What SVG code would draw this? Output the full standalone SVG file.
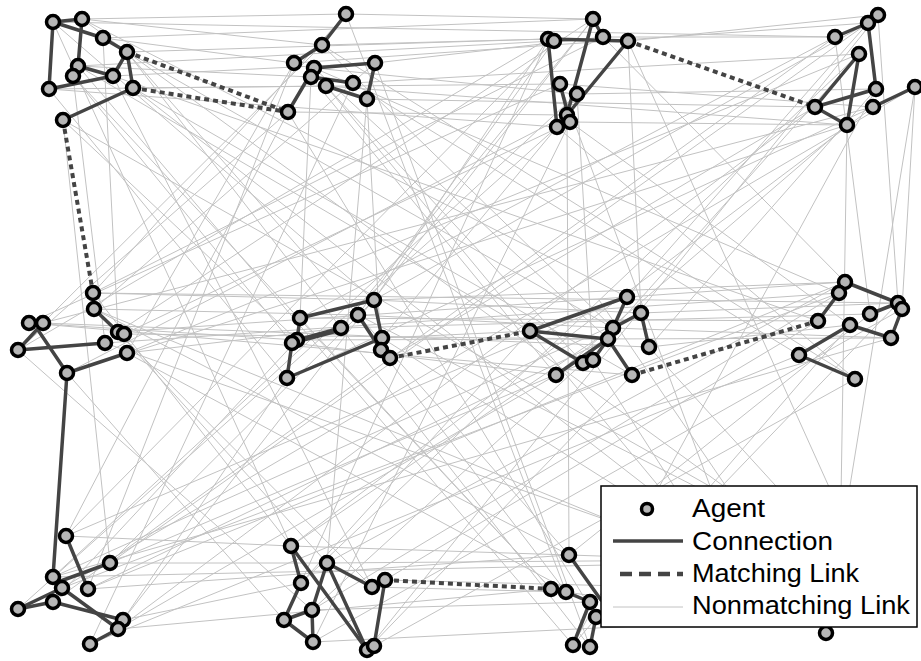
<svg xmlns="http://www.w3.org/2000/svg" width="921" height="661" viewBox="0 0 921 661">
<style>
.nm{stroke:#c2c2c2;stroke-width:1;fill:none}
.cn{stroke:#444;stroke-width:3.5;stroke-linecap:round;fill:none}
.mt{stroke:#444;stroke-width:4;stroke-dasharray:5 4;fill:none}
.ag{fill:#b6b6b6;stroke:#000;stroke-width:3.5}
.lg{font-family:"Liberation Sans",Arial,sans-serif;font-size:25px;fill:#000}
</style>
<rect width="921" height="661" fill="#fff"/>
<g id="connectors">
<g id="nonmatching-links" class="nm">
<line x1="82" y1="19" x2="346" y2="14"/><line x1="103" y1="38" x2="294" y2="63"/><line x1="127" y1="52" x2="548" y2="39"/><line x1="113" y1="76" x2="375" y2="63"/>
<line x1="133" y1="88" x2="560" y2="84"/><line x1="53" y1="22" x2="835" y2="37"/><line x1="78" y1="66" x2="554" y2="41"/><line x1="346" y1="14" x2="593" y2="19"/>
<line x1="375" y1="63" x2="603" y2="37"/><line x1="353" y1="83" x2="859" y2="54"/><line x1="322" y1="45" x2="548" y2="39"/><line x1="367" y1="99" x2="815" y2="107"/>
<line x1="628" y1="41" x2="878" y2="15"/><line x1="603" y1="37" x2="835" y2="37"/><line x1="577" y1="94" x2="876" y2="89"/><line x1="103" y1="38" x2="593" y2="19"/>
<line x1="294" y1="63" x2="868" y2="23"/><line x1="49" y1="89" x2="326" y2="86"/><line x1="314" y1="68" x2="577" y2="94"/><line x1="560" y1="84" x2="873" y2="107"/>
<line x1="82" y1="19" x2="322" y2="45"/><line x1="78" y1="66" x2="311" y2="77"/><line x1="49" y1="89" x2="557" y2="127"/><line x1="288" y1="112" x2="567" y2="115"/>
<line x1="326" y1="86" x2="847" y2="125"/><line x1="570" y1="122" x2="847" y2="125"/>
<line x1="53" y1="22" x2="374" y2="300"/><line x1="82" y1="19" x2="627" y2="297"/><line x1="103" y1="38" x2="118" y2="332"/><line x1="127" y1="52" x2="341" y2="328"/>
<line x1="78" y1="66" x2="530" y2="331"/><line x1="73" y1="76" x2="105" y2="343"/><line x1="113" y1="76" x2="818" y2="321"/><line x1="49" y1="89" x2="287" y2="378"/>
<line x1="133" y1="88" x2="632" y2="375"/><line x1="63" y1="120" x2="297" y2="340"/><line x1="346" y1="14" x2="93" y2="293"/><line x1="322" y1="45" x2="613" y2="328"/>
<line x1="294" y1="63" x2="127" y2="353"/><line x1="314" y1="68" x2="839" y2="293"/><line x1="311" y1="77" x2="300" y2="318"/><line x1="326" y1="86" x2="583" y2="363"/>
<line x1="353" y1="83" x2="799" y2="355"/><line x1="375" y1="63" x2="94" y2="309"/><line x1="367" y1="99" x2="381" y2="350"/><line x1="288" y1="112" x2="18" y2="350"/>
<line x1="593" y1="19" x2="118" y2="332"/><line x1="548" y1="39" x2="374" y2="300"/><line x1="603" y1="37" x2="845" y2="282"/><line x1="628" y1="41" x2="641" y2="313"/>
<line x1="560" y1="84" x2="29" y2="323"/><line x1="577" y1="94" x2="593" y2="360"/><line x1="567" y1="115" x2="382" y2="338"/><line x1="557" y1="127" x2="855" y2="379"/>
<line x1="570" y1="122" x2="124" y2="334"/><line x1="554" y1="41" x2="358" y2="315"/><line x1="878" y1="15" x2="898" y2="303"/><line x1="868" y1="23" x2="627" y2="297"/>
<line x1="835" y1="37" x2="300" y2="318"/><line x1="859" y1="54" x2="127" y2="353"/><line x1="876" y1="89" x2="649" y2="347"/><line x1="915" y1="87" x2="902" y2="309"/>
<line x1="815" y1="107" x2="390" y2="358"/><line x1="873" y1="107" x2="43" y2="323"/><line x1="847" y1="125" x2="556" y2="375"/><line x1="835" y1="37" x2="870" y2="314"/>
<line x1="103" y1="38" x2="613" y2="328"/><line x1="73" y1="76" x2="292" y2="343"/><line x1="322" y1="45" x2="43" y2="323"/><line x1="314" y1="68" x2="608" y2="339"/>
<line x1="593" y1="19" x2="341" y2="328"/><line x1="603" y1="37" x2="93" y2="293"/><line x1="868" y1="23" x2="374" y2="300"/><line x1="859" y1="54" x2="583" y2="363"/>
<line x1="847" y1="125" x2="67" y2="373"/><line x1="570" y1="122" x2="850" y2="325"/>
<line x1="53" y1="22" x2="291" y2="546"/><line x1="127" y1="52" x2="569" y2="555"/><line x1="113" y1="76" x2="372" y2="587"/><line x1="133" y1="88" x2="780" y2="590"/>
<line x1="63" y1="120" x2="110" y2="563"/><line x1="346" y1="14" x2="566" y2="592"/><line x1="294" y1="63" x2="88" y2="589"/><line x1="326" y1="86" x2="720" y2="560"/>
<line x1="367" y1="99" x2="327" y2="563"/><line x1="288" y1="112" x2="66" y2="536"/><line x1="593" y1="19" x2="123" y2="620"/><line x1="548" y1="39" x2="284" y2="620"/>
<line x1="560" y1="84" x2="760" y2="620"/><line x1="567" y1="115" x2="569" y2="555"/><line x1="557" y1="127" x2="18" y2="609"/><line x1="570" y1="122" x2="313" y2="642"/>
<line x1="868" y1="23" x2="110" y2="563"/><line x1="859" y1="54" x2="301" y2="583"/><line x1="876" y1="89" x2="573" y2="645"/><line x1="815" y1="107" x2="118" y2="629"/>
<line x1="847" y1="125" x2="840" y2="560"/><line x1="878" y1="15" x2="367" y2="650"/><line x1="628" y1="41" x2="880" y2="600"/><line x1="375" y1="63" x2="590" y2="647"/>
<line x1="353" y1="83" x2="90" y2="644"/><line x1="577" y1="94" x2="53" y2="577"/><line x1="873" y1="107" x2="291" y2="546"/><line x1="78" y1="66" x2="573" y2="645"/>
<line x1="93" y1="293" x2="374" y2="300"/><line x1="94" y1="309" x2="358" y2="315"/><line x1="118" y1="332" x2="627" y2="297"/><line x1="127" y1="353" x2="341" y2="328"/>
<line x1="105" y1="343" x2="839" y2="293"/><line x1="374" y1="300" x2="641" y2="313"/><line x1="358" y1="315" x2="613" y2="328"/><line x1="341" y1="328" x2="870" y2="314"/>
<line x1="382" y1="338" x2="530" y2="331"/><line x1="300" y1="318" x2="818" y2="321"/><line x1="627" y1="297" x2="845" y2="282"/><line x1="641" y1="313" x2="898" y2="303"/>
<line x1="649" y1="347" x2="850" y2="325"/><line x1="613" y1="328" x2="891" y2="338"/><line x1="124" y1="334" x2="608" y2="339"/><line x1="29" y1="323" x2="297" y2="340"/>
<line x1="374" y1="300" x2="845" y2="282"/><line x1="93" y1="293" x2="898" y2="303"/><line x1="43" y1="323" x2="649" y2="347"/><line x1="292" y1="343" x2="556" y2="375"/>
<line x1="93" y1="293" x2="291" y2="546"/><line x1="94" y1="309" x2="569" y2="555"/><line x1="118" y1="332" x2="327" y2="563"/><line x1="105" y1="343" x2="720" y2="560"/>
<line x1="127" y1="353" x2="590" y2="602"/><line x1="67" y1="373" x2="284" y2="620"/><line x1="18" y1="350" x2="312" y2="610"/><line x1="374" y1="300" x2="110" y2="563"/>
<line x1="300" y1="318" x2="551" y2="589"/><line x1="297" y1="340" x2="53" y2="602"/><line x1="382" y1="338" x2="780" y2="590"/><line x1="381" y1="350" x2="566" y2="592"/>
<line x1="287" y1="378" x2="123" y2="620"/><line x1="358" y1="315" x2="840" y2="560"/><line x1="627" y1="297" x2="66" y2="536"/><line x1="530" y1="331" x2="301" y2="583"/>
<line x1="608" y1="339" x2="88" y2="589"/><line x1="583" y1="363" x2="312" y2="610"/><line x1="593" y1="360" x2="760" y2="620"/><line x1="556" y1="375" x2="118" y2="629"/>
<line x1="632" y1="375" x2="367" y2="650"/><line x1="845" y1="282" x2="327" y2="563"/><line x1="839" y1="293" x2="62" y2="588"/><line x1="870" y1="314" x2="569" y2="555"/>
<line x1="818" y1="321" x2="385" y2="580"/><line x1="850" y1="325" x2="573" y2="645"/><line x1="799" y1="355" x2="90" y2="644"/><line x1="855" y1="379" x2="374" y2="646"/>
<line x1="898" y1="303" x2="596" y2="617"/><line x1="891" y1="338" x2="53" y2="577"/>
<line x1="118" y1="332" x2="372" y2="587"/><line x1="341" y1="328" x2="590" y2="647"/><line x1="613" y1="328" x2="291" y2="546"/><line x1="839" y1="293" x2="312" y2="610"/>
<line x1="649" y1="347" x2="880" y2="600"/><line x1="94" y1="309" x2="780" y2="590"/>
<line x1="66" y1="536" x2="291" y2="546"/><line x1="110" y1="563" x2="327" y2="563"/>
<line x1="88" y1="589" x2="569" y2="555"/><line x1="123" y1="620" x2="301" y2="583"/><line x1="118" y1="629" x2="551" y2="589"/><line x1="291" y1="546" x2="569" y2="555"/>
<line x1="327" y1="563" x2="720" y2="560"/><line x1="372" y1="587" x2="566" y2="592"/><line x1="313" y1="642" x2="760" y2="620"/><line x1="385" y1="580" x2="780" y2="590"/>
<line x1="53" y1="577" x2="840" y2="560"/><line x1="312" y1="610" x2="590" y2="602"/><line x1="569" y1="555" x2="720" y2="560"/><line x1="566" y1="592" x2="760" y2="620"/>
<line x1="82" y1="19" x2="880" y2="600"/><line x1="322" y1="45" x2="855" y2="379"/><line x1="554" y1="41" x2="66" y2="536"/><line x1="835" y1="37" x2="53" y2="602"/>
<line x1="73" y1="76" x2="551" y2="589"/><line x1="311" y1="77" x2="556" y2="375"/><line x1="567" y1="115" x2="67" y2="373"/><line x1="915" y1="87" x2="62" y2="588"/>
<line x1="29" y1="323" x2="632" y2="375"/><line x1="297" y1="340" x2="891" y2="338"/><line x1="583" y1="363" x2="110" y2="563"/><line x1="902" y1="309" x2="313" y2="642"/>
<line x1="63" y1="120" x2="840" y2="560"/><line x1="288" y1="112" x2="596" y2="617"/><line x1="548" y1="39" x2="18" y2="350"/><line x1="873" y1="107" x2="287" y2="378"/>
<line x1="845" y1="282" x2="88" y2="589"/><line x1="641" y1="313" x2="53" y2="577"/><line x1="826" y1="633" x2="599" y2="300"/><line x1="826" y1="633" x2="915" y2="87"/>
</g>
<g id="connections" class="cn">
<line x1="53" y1="22" x2="82" y2="19"/><line x1="53" y1="22" x2="49" y2="89"/><line x1="53" y1="22" x2="103" y2="38"/><line x1="103" y1="38" x2="127" y2="52"/>
<line x1="82" y1="19" x2="78" y2="66"/><line x1="127" y1="52" x2="133" y2="88"/><line x1="127" y1="52" x2="113" y2="76"/><line x1="78" y1="66" x2="113" y2="76"/>
<line x1="49" y1="89" x2="113" y2="76"/><line x1="133" y1="88" x2="63" y2="120"/>
<line x1="346" y1="14" x2="322" y2="45"/><line x1="322" y1="45" x2="294" y2="63"/><line x1="314" y1="68" x2="288" y2="112"/><line x1="314" y1="68" x2="375" y2="63"/>
<line x1="326" y1="86" x2="367" y2="99"/><line x1="375" y1="63" x2="367" y2="99"/><line x1="311" y1="77" x2="353" y2="83"/>
<line x1="548" y1="39" x2="628" y2="41"/><line x1="593" y1="19" x2="567" y2="115"/><line x1="548" y1="39" x2="557" y2="127"/><line x1="628" y1="41" x2="567" y2="115"/>
<line x1="560" y1="84" x2="570" y2="122"/><line x1="593" y1="19" x2="603" y2="37"/>
<line x1="868" y1="23" x2="835" y2="37"/><line x1="868" y1="23" x2="876" y2="89"/><line x1="859" y1="54" x2="815" y2="107"/><line x1="859" y1="54" x2="847" y2="125"/>
<line x1="815" y1="107" x2="876" y2="89"/><line x1="873" y1="107" x2="915" y2="87"/><line x1="815" y1="107" x2="847" y2="125"/>
<line x1="93" y1="293" x2="94" y2="309"/><line x1="94" y1="309" x2="118" y2="332"/><line x1="43" y1="323" x2="18" y2="350"/><line x1="38" y1="330" x2="67" y2="373"/>
<line x1="18" y1="350" x2="105" y2="343"/><line x1="67" y1="373" x2="127" y2="353"/><line x1="67" y1="373" x2="53" y2="577"/>
<line x1="300" y1="318" x2="374" y2="300"/><line x1="297" y1="340" x2="341" y2="328"/><line x1="292" y1="343" x2="341" y2="330"/><line x1="358" y1="315" x2="381" y2="350"/>
<line x1="374" y1="300" x2="382" y2="338"/><line x1="287" y1="378" x2="292" y2="343"/><line x1="287" y1="378" x2="382" y2="338"/><line x1="300" y1="318" x2="297" y2="340"/>
<line x1="530" y1="331" x2="627" y2="297"/><line x1="530" y1="331" x2="608" y2="339"/><line x1="530" y1="331" x2="583" y2="363"/><line x1="627" y1="297" x2="613" y2="328"/>
<line x1="641" y1="313" x2="613" y2="328"/><line x1="641" y1="313" x2="649" y2="347"/><line x1="608" y1="339" x2="556" y2="375"/><line x1="608" y1="339" x2="632" y2="375"/>
<line x1="608" y1="339" x2="593" y2="360"/>
<line x1="845" y1="282" x2="898" y2="303"/><line x1="839" y1="293" x2="818" y2="321"/><line x1="870" y1="314" x2="898" y2="303"/><line x1="902" y1="309" x2="891" y2="338"/>
<line x1="850" y1="325" x2="891" y2="338"/><line x1="850" y1="325" x2="799" y2="355"/><line x1="799" y1="355" x2="855" y2="379"/>
<line x1="66" y1="536" x2="88" y2="589"/><line x1="58" y1="582" x2="110" y2="563"/><line x1="18" y1="609" x2="62" y2="588"/><line x1="18" y1="609" x2="53" y2="602"/>
<line x1="62" y1="588" x2="118" y2="629"/><line x1="53" y1="602" x2="123" y2="620"/><line x1="118" y1="629" x2="90" y2="644"/>
<line x1="291" y1="546" x2="301" y2="583"/><line x1="291" y1="546" x2="367" y2="650"/><line x1="327" y1="563" x2="372" y2="587"/><line x1="327" y1="563" x2="367" y2="650"/>
<line x1="327" y1="563" x2="312" y2="610"/><line x1="301" y1="583" x2="284" y2="620"/><line x1="312" y1="610" x2="284" y2="620"/><line x1="312" y1="610" x2="313" y2="642"/>
<line x1="284" y1="620" x2="313" y2="642"/><line x1="385" y1="580" x2="374" y2="646"/>
<line x1="569" y1="555" x2="601" y2="600"/><line x1="566" y1="592" x2="590" y2="602"/><line x1="590" y1="602" x2="573" y2="645"/><line x1="596" y1="617" x2="590" y2="647"/>
<line x1="551" y1="589" x2="566" y2="592"/>
</g>
<g id="matching-links" class="mt">
<line x1="127" y1="52" x2="288" y2="112"/><line x1="133" y1="88" x2="288" y2="112"/><line x1="63" y1="120" x2="93" y2="293"/>
<line x1="628" y1="41" x2="815" y2="107"/><line x1="390" y1="358" x2="530" y2="331"/><line x1="632" y1="375" x2="818" y2="321"/>
<line x1="385" y1="580" x2="551" y2="589"/>
</g>
</g>
<g id="agents" class="ag">
<g id="a1"><circle cx="53" cy="22" r="6.5"/></g><g id="a2"><circle cx="82" cy="19" r="6.5"/></g><g id="a3"><circle cx="103" cy="38" r="6.5"/></g>
<g id="a4"><circle cx="127" cy="52" r="6.5"/></g><g id="a5"><circle cx="78" cy="66" r="6.5"/></g><g id="a6"><circle cx="73" cy="76" r="6.5"/></g>
<g id="a7"><circle cx="113" cy="76" r="6.5"/></g><g id="a8"><circle cx="49" cy="89" r="6.5"/></g><g id="a9"><circle cx="133" cy="88" r="6.5"/></g>
<g id="a10"><circle cx="63" cy="120" r="6.5"/></g>
<g id="b1"><circle cx="346" cy="14" r="6.5"/></g><g id="b2"><circle cx="322" cy="45" r="6.5"/></g><g id="b3"><circle cx="294" cy="63" r="6.5"/></g>
<g id="b4"><circle cx="314" cy="68" r="6.5"/></g><g id="b5"><circle cx="311" cy="77" r="6.5"/></g><g id="b6"><circle cx="326" cy="86" r="6.5"/></g>
<g id="b7"><circle cx="353" cy="83" r="6.5"/></g><g id="b8"><circle cx="375" cy="63" r="6.5"/></g><g id="b9"><circle cx="367" cy="99" r="6.5"/></g>
<g id="b10"><circle cx="288" cy="112" r="6.5"/></g>
<g id="c1"><circle cx="593" cy="19" r="6.5"/></g><g id="c2"><circle cx="548" cy="39" r="6.5"/></g><g id="c3"><circle cx="554" cy="41" r="6.5"/></g>
<g id="c4"><circle cx="603" cy="37" r="6.5"/></g><g id="c5"><circle cx="628" cy="41" r="6.5"/></g><g id="c6"><circle cx="560" cy="84" r="6.5"/></g>
<g id="c7"><circle cx="577" cy="94" r="6.5"/></g><g id="c8"><circle cx="567" cy="115" r="6.5"/></g><g id="c9"><circle cx="557" cy="127" r="6.5"/></g>
<g id="c10"><circle cx="570" cy="122" r="6.5"/></g>
<g id="d1"><circle cx="878" cy="15" r="6.5"/></g><g id="d2"><circle cx="868" cy="23" r="6.5"/></g><g id="d3"><circle cx="835" cy="37" r="6.5"/></g>
<g id="d4"><circle cx="859" cy="54" r="6.5"/></g><g id="d5"><circle cx="876" cy="89" r="6.5"/></g><g id="d6"><circle cx="915" cy="87" r="6.5"/></g>
<g id="d7"><circle cx="815" cy="107" r="6.5"/></g><g id="d8"><circle cx="873" cy="107" r="6.5"/></g><g id="d9"><circle cx="847" cy="125" r="6.5"/></g>
<g id="e1"><circle cx="93" cy="293" r="6.5"/></g><g id="e2"><circle cx="94" cy="309" r="6.5"/></g><g id="e3"><circle cx="29" cy="323" r="6.5"/></g>
<g id="e4"><circle cx="43" cy="323" r="6.5"/></g><g id="e5"><circle cx="118" cy="332" r="6.5"/></g><g id="e6"><circle cx="124" cy="334" r="6.5"/></g>
<g id="e7"><circle cx="105" cy="343" r="6.5"/></g><g id="e8"><circle cx="18" cy="350" r="6.5"/></g><g id="e9"><circle cx="127" cy="353" r="6.5"/></g>
<g id="e10"><circle cx="67" cy="373" r="6.5"/></g>
<g id="f1"><circle cx="374" cy="300" r="6.5"/></g><g id="f2"><circle cx="358" cy="315" r="6.5"/></g><g id="f3"><circle cx="300" cy="318" r="6.5"/></g>
<g id="f4"><circle cx="341" cy="328" r="6.5"/></g><g id="f5"><circle cx="297" cy="340" r="6.5"/></g><g id="f6"><circle cx="292" cy="343" r="6.5"/></g>
<g id="f7"><circle cx="382" cy="338" r="6.5"/></g><g id="f8"><circle cx="381" cy="350" r="6.5"/></g><g id="f9"><circle cx="390" cy="358" r="6.5"/></g>
<g id="f10"><circle cx="287" cy="378" r="6.5"/></g>
<g id="g1"><circle cx="627" cy="297" r="6.5"/></g><g id="g2"><circle cx="641" cy="313" r="6.5"/></g><g id="g3"><circle cx="530" cy="331" r="6.5"/></g>
<g id="g4"><circle cx="613" cy="328" r="6.5"/></g><g id="g5"><circle cx="608" cy="339" r="6.5"/></g><g id="g6"><circle cx="649" cy="347" r="6.5"/></g>
<g id="g7"><circle cx="583" cy="363" r="6.5"/></g><g id="g8"><circle cx="593" cy="360" r="6.5"/></g><g id="g9"><circle cx="556" cy="375" r="6.5"/></g>
<g id="g10"><circle cx="632" cy="375" r="6.5"/></g>
<g id="h1"><circle cx="845" cy="282" r="6.5"/></g><g id="h2"><circle cx="839" cy="293" r="6.5"/></g><g id="h3"><circle cx="898" cy="303" r="6.5"/></g>
<g id="h4"><circle cx="902" cy="309" r="6.5"/></g><g id="h5"><circle cx="870" cy="314" r="6.5"/></g><g id="h6"><circle cx="818" cy="321" r="6.5"/></g>
<g id="h7"><circle cx="850" cy="325" r="6.5"/></g><g id="h8"><circle cx="891" cy="338" r="6.5"/></g><g id="h9"><circle cx="799" cy="355" r="6.5"/></g>
<g id="h10"><circle cx="855" cy="379" r="6.5"/></g>
<g id="i1"><circle cx="66" cy="536" r="6.5"/></g><g id="i2"><circle cx="110" cy="563" r="6.5"/></g><g id="i3"><circle cx="53" cy="577" r="6.5"/></g>
<g id="i4"><circle cx="62" cy="588" r="6.5"/></g><g id="i5"><circle cx="88" cy="589" r="6.5"/></g><g id="i6"><circle cx="53" cy="602" r="6.5"/></g>
<g id="i7"><circle cx="18" cy="609" r="6.5"/></g><g id="i8"><circle cx="123" cy="620" r="6.5"/></g><g id="i9"><circle cx="118" cy="629" r="6.5"/></g>
<g id="i10"><circle cx="90" cy="644" r="6.5"/></g>
<g id="j1"><circle cx="291" cy="546" r="6.5"/></g><g id="j2"><circle cx="327" cy="563" r="6.5"/></g><g id="j3"><circle cx="301" cy="583" r="6.5"/></g>
<g id="j4"><circle cx="372" cy="587" r="6.5"/></g><g id="j5"><circle cx="385" cy="580" r="6.5"/></g><g id="j6"><circle cx="312" cy="610" r="6.5"/></g>
<g id="j7"><circle cx="284" cy="620" r="6.5"/></g><g id="j8"><circle cx="313" cy="642" r="6.5"/></g><g id="j9"><circle cx="367" cy="650" r="6.5"/></g>
<g id="j10"><circle cx="374" cy="646" r="6.5"/></g>
<g id="k1"><circle cx="569" cy="555" r="6.5"/></g><g id="k2"><circle cx="551" cy="589" r="6.5"/></g><g id="k3"><circle cx="566" cy="592" r="6.5"/></g>
<g id="k4"><circle cx="590" cy="602" r="6.5"/></g><g id="k5"><circle cx="596" cy="617" r="6.5"/></g><g id="k6"><circle cx="573" cy="645" r="6.5"/></g>
<g id="k7"><circle cx="590" cy="647" r="6.5"/></g>
<g id="l1"><circle cx="826" cy="633" r="6.5"/></g>
</g>
<g id="legend">
<rect x="601" y="486" width="316" height="141" fill="#fff" stroke="#000" stroke-width="1.5"/>
<circle class="ag" cx="647" cy="509" r="5.5"/>
<line x1="613" y1="541" x2="683" y2="541" stroke="#444" stroke-width="3.5"/>
<line x1="620" y1="574" x2="683" y2="574" stroke="#444" stroke-width="4.5" stroke-dasharray="12 7"/>
<line x1="613" y1="607" x2="683" y2="607" stroke="#c2c2c2" stroke-width="1"/>
<text class="lg" x="692" y="517" textLength="73" lengthAdjust="spacingAndGlyphs">Agent</text>
<text class="lg" x="692" y="550" textLength="141" lengthAdjust="spacingAndGlyphs">Connection</text>
<text class="lg" x="692" y="582" textLength="167" lengthAdjust="spacingAndGlyphs">Matching Link</text>
<text class="lg" x="692" y="614" textLength="218" lengthAdjust="spacingAndGlyphs">Nonmatching Link</text>
</g>
</svg>
